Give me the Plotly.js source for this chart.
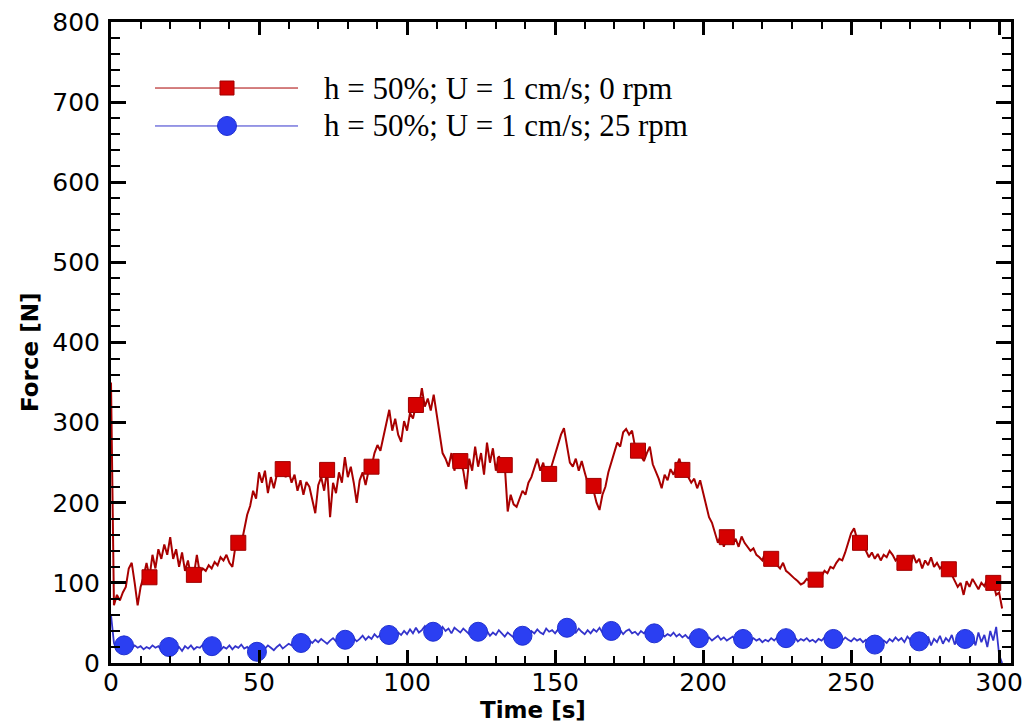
<!DOCTYPE html>
<html>
<head>
<meta charset="utf-8">
<script src="https://cdn.plot.ly/plotly-3.0.1.min.js"></script>
<style>html,body{margin:0;padding:0;background:#fff;}#chart{width:1027px;height:722px;}</style>
</head>
<body>
<div id="chart"></div>
<script>
// Sampling: one reading per second, starting at t = 0 s
var timeStart = 0;
var timeStep = 1;

// Force [N], h = 50%; U = 1 cm/s; 0 rpm (line readings, t = 0..301 s)
var force0rpm = [
350,72,85,78,88,95,118,125,100,72,
95,108,125,107,135,118,142,130,148,135,
157,130,142,120,138,115,128,108,110,135,
112,118,115,122,118,126,122,132,128,135,
125,120,145,150,148,168,185,196,215,205,
238,225,240,212,232,218,235,245,242,232,
240,225,235,215,228,210,226,220,205,187,
222,232,215,241,182,225,212,238,225,257,
232,245,225,200,228,238,222,240,245,262,
272,265,282,300,316,290,305,285,276,302,
290,312,305,322,318,343,320,330,315,335,
312,285,262,255,245,262,240,258,252,240,
217,255,240,270,245,262,235,275,250,268,
240,258,250,247,189,210,198,195,205,215,
210,225,232,245,255,240,250,232,236,248,
260,272,285,293,270,250,245,255,240,252,
238,225,221,215,200,191,210,220,238,250,
262,275,270,288,292,285,290,270,265,258,
252,262,270,248,240,230,218,235,228,242,
235,245,255,241,250,232,225,230,218,228,
212,195,182,175,162,150,160,145,157,162,
148,155,145,158,150,145,140,143,135,132,
128,138,125,130,135,122,118,125,115,112,
108,105,102,98,100,105,102,108,104,110,
108,115,112,120,118,125,130,128,138,150,
162,168,155,150,145,140,132,138,130,136,
128,135,132,140,135,128,132,125,125,130,
120,135,125,130,118,128,122,132,120,125,
118,122,115,117,110,103,95,100,85,102,
95,105,98,92,100,96,105,92,100,85,
88,68
];

// Force [N], h = 50%; U = 1 cm/s; 25 rpm (line readings, t = 0..301 s)
var force25rpm = [
60,25,15,25,22,20,24,18,22,19,
21,17,20,18,22,19,21,16,20,20,
18,22,17,20,15,21,18,22,17,20,
19,23,18,21,21,19,22,16,20,18,
22,17,21,19,23,18,20,16,15,14,
17,21,18,22,19,16,20,23,18,21,
24,22,26,23,25,27,24,28,25,29,
26,30,27,24,28,31,27,30,28,29,
32,28,31,27,30,34,29,33,30,36,
32,35,38,34,35,37,33,38,35,40,
36,42,37,44,38,41,46,39,42,39,
44,38,45,40,43,37,44,41,38,43,
40,36,42,38,39,41,36,40,34,38,
35,41,37,33,38,35,32,37,34,34,
38,35,40,37,42,38,36,43,39,41,
37,42,39,45,44,40,42,38,43,39,
36,41,37,42,39,44,38,42,37,40,
43,38,41,36,40,42,37,39,35,40,
37,41,36,37,39,34,37,33,36,34,
38,33,36,32,35,31,34,30,32,31,
33,29,32,28,31,34,29,32,28,31,
33,29,31,30,28,32,27,31,28,30,
26,29,27,31,28,32,29,33,31,30,
28,32,27,30,28,31,27,29,26,30,
28,32,29,31,30,27,31,28,32,29,
27,31,28,30,26,29,25,27,23,26,
24,28,25,30,27,32,28,31,26,33,
29,25,30,27,31,25,33,22,30,26,
34,24,31,27,35,23,33,28,30,36,
25,34,22,38,26,35,20,40,28,45,
10,0
];

// Symbol positions (Time [s]) and values (Force [N])
var markTime0rpm  = [13,28,43,58,73,88,103,118,133,148,163,178,193,208,223,238,253,268,283,298];
var markForce0rpm = [107,110,150,242,241,245,322,252,247,236,221,265,241,157,130,104,150,125,117,100];
var markTime25rpm  = [4.4,19.6,34.1,49.3,64.2,79.1,93.9,108.8,124,139,154,169,183.5,198.6,213.5,228,244,258,273,288.5];
var markForce25rpm = [22,20,21,14,25,29,35,39,39,34,44,40,37,31,30,31,30,23,27,30];

// Axis ticks
var xTicks = [0,50,100,150,200,250,300];
var yTicks = [0,100,200,300,400,500,600,700,800];

var seriesNames = ["h = 50%; U = 1 cm/s; 0 rpm", "h = 50%; U = 1 cm/s; 25 rpm"];
var xTitle = "Time [s]";
var yTitle = "Force [N]";

function timesFor(arr){ var t=[]; for(var i=0;i<arr.length;i++){ t.push(timeStart + i*timeStep); } return t; }

var redLine = '#a80000', redFill = '#d60000';
var blueLine = '#3434cc', blueFill = '#2b3ff2';

var traces = [
  {x: timesFor(force25rpm), y: force25rpm, mode:'lines', line:{color:blueLine, width:1.8}, showlegend:false, hoverinfo:'skip'},
  {x: timesFor(force0rpm), y: force0rpm, mode:'lines', line:{color:redLine, width:2}, showlegend:false, hoverinfo:'skip'},
  {x: markTime25rpm, y: markForce25rpm, mode:'markers', marker:{symbol:'circle', size:19, color:blueFill, line:{color:'#2030d0', width:1}}, showlegend:false},
  {x: markTime0rpm, y: markForce0rpm, mode:'markers', marker:{symbol:'square', size:15, color:redFill, line:{color:'#a00000', width:1}}, showlegend:false}
];

// legend drawn in paper coordinates
var L = {x0:0.0489, x1:0.2078, xm:0.1289, yRed:0.897, yBlue:0.8378, xText:0.2344};

var axisCommon = {
  showline:true, linewidth:3, linecolor:'#000', mirror:'ticks',
  ticks:'inside', ticklen:15, tickwidth:3, tickcolor:'#000',
  showgrid:false, zeroline:false,
  tickfont:{family:'DejaVu Sans', size:25, color:'#000'},
  fixedrange:true
};

var layout = {
  width:1027, height:722,
  margin:{l:111, r:16, t:22, b:59},
  paper_bgcolor:'#fff', plot_bgcolor:'#fff',
  showlegend:false,
  xaxis: Object.assign({}, axisCommon, {
    range:[0,304], tickmode:'array', tickvals:xTicks, ticktext:xTicks.map(String),
    ticklen:13, ticklabelstandoff:-5,
    minor:{dtick:10, tick0:0, ticks:'inside', ticklen:7, tickwidth:2, tickcolor:'#000', showgrid:false}
  }),
  yaxis: Object.assign({}, axisCommon, {
    range:[0,800], tickmode:'array', tickvals:yTicks, ticktext:yTicks.map(String),
    ticklabelstandoff:3,
    minor:{dtick:20, tick0:0, ticks:'inside', ticklen:9, tickwidth:2, tickcolor:'#000', showgrid:false}
  }),
  shapes:[
    {type:'line', xref:'paper', yref:'paper', x0:L.x0, x1:L.x1, y0:L.yRed, y1:L.yRed, line:{color:redLine, width:1}},
    {type:'line', xref:'paper', yref:'paper', x0:L.x0, x1:L.x1, y0:L.yBlue, y1:L.yBlue, line:{color:blueLine, width:1}},
    {type:'rect', xref:'paper', yref:'paper', xsizemode:'pixel', ysizemode:'pixel', xanchor:L.xm, yanchor:L.yRed, x0:-7, x1:7, y0:-7, y1:7, fillcolor:redFill, line:{color:'#a00000', width:1}},
    {type:'circle', xref:'paper', yref:'paper', xsizemode:'pixel', ysizemode:'pixel', xanchor:L.xm, yanchor:L.yBlue, x0:-9.5, x1:9.5, y0:-9.5, y1:9.5, fillcolor:blueFill, line:{color:'#2030d0', width:1}}
  ],
  annotations:[
    {xref:'paper', yref:'paper', x:L.xText, y:L.yRed, xanchor:'left', yanchor:'middle', showarrow:false, text:seriesNames[0], font:{family:'Liberation Serif', size:31, color:'#000'}},
    {xref:'paper', yref:'paper', x:L.xText, y:L.yBlue, xanchor:'left', yanchor:'middle', showarrow:false, text:seriesNames[1], font:{family:'Liberation Serif', size:31, color:'#000'}},
    {xref:'paper', yref:'paper', x:(533-111)/900, y:(663-710)/641, xanchor:'center', yanchor:'middle', showarrow:false, text:'<b>'+xTitle+'</b>', font:{family:'DejaVu Sans', size:23, color:'#000'}},
    {xref:'paper', yref:'paper', x:(30-111)/900, y:(663-353)/641, xanchor:'center', yanchor:'middle', textangle:-90, showarrow:false, text:'<b>'+yTitle+'</b>', font:{family:'DejaVu Sans', size:23, color:'#000'}}
  ]
};

Plotly.newPlot('chart', traces, layout, {staticPlot:true, displayModeBar:false});
</script>
</body>
</html>
